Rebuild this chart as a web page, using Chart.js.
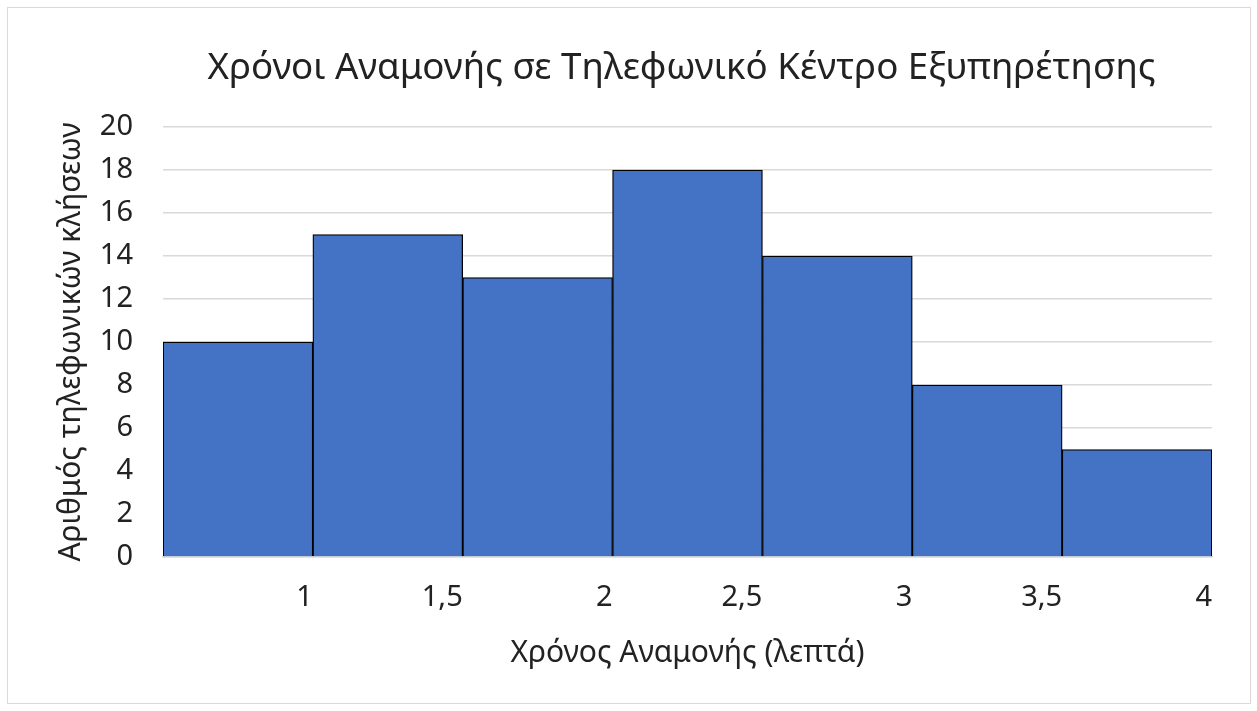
<!DOCTYPE html>
<html>
<head>
<meta charset="utf-8">
<script src="https://cdn.jsdelivr.net/npm/chart.js@4.4.1/dist/chart.umd.min.js"></script>
<style>
  html, body { margin: 0; padding: 0; background: #fff; }
  #frame {
    position: absolute;
    left: 7px;
    top: 7px;
    width: 1242px;
    height: 695px;
    border: 1px solid #d9d9d9;
    background: #fff;
  }
  #chart { display: block; }
</style>
</head>
<body>
<div id="frame"><canvas id="chart" width="1242" height="695"></canvas></div>
<script>
// histogram bins: right edge of each bin (minutes), bin width 0.5
const binEnds = [1, 1.5, 2, 2.5, 3, 3.5, 4];
const binWidth = 0.5;
const callCounts = [10, 15, 13, 18, 14, 8, 5];
const xTickValues = [1, 1.5, 2, 2.5, 3, 3.5, 4];
const xTickLabels = ['1', '1,5', '2', '2,5', '3', '3,5', '4'];
const yTicks = [0, 2, 4, 6, 8, 10, 12, 14, 16, 18, 20];

const chartTitle = 'Χρόνοι Αναμονής σε Τηλεφωνικό Κέντρο Εξυπηρέτησης';
const xTitle = 'Χρόνος Αναμονής (λεπτά)';
const yTitle = 'Αριθμός τηλεφωνικών κλήσεων';

const FONT = "'Noto Sans', sans-serif";
const TEXT = '#222222';

const bars = binEnds.map((end, i) => ({ x: end - binWidth / 2, y: callCounts[i] }));

// title centred over the plot area (like Excel), not over the whole canvas
const plotTitle = {
  id: 'plotTitle',
  afterDraw(chart, args, opts) {
    const { ctx, chartArea } = chart;
    ctx.save();
    ctx.font = `normal ${opts.size}px ${FONT}`;
    ctx.fillStyle = TEXT;
    ctx.textAlign = 'center';
    ctx.textBaseline = 'middle';
    ctx.fillText(opts.text, (chartArea.left + chartArea.right) / 2 - 6, opts.y);
    ctx.restore();
  },
};

new Chart(document.getElementById('chart'), {
  type: 'bar',
  data: {
    datasets: [
      {
        data: bars,
        backgroundColor: '#4472C4',
        borderColor: '#000000',
        borderWidth: 1.3,
        borderSkipped: 'start',
        barPercentage: 1,
        categoryPercentage: 1,
      },
    ],
  },
  plugins: [plotTitle],
  options: {
    responsive: false,
    animation: false,
    layout: { padding: { left: 45, right: 38, top: 119, bottom: 32 } },
    plugins: {
      legend: { display: false },
      tooltip: { enabled: false },
      title: { display: false },
      plotTitle: { text: chartTitle, size: 36.7, y: 61 },
    },
    scales: {
      x: {
        type: 'linear',
        offset: false,
        min: binEnds[0] - binWidth,
        max: binEnds[binEnds.length - 1],
        afterBuildTicks: (scale) => {
          scale.ticks = xTickValues.map((v) => ({ value: v }));
        },
        afterFit: (scale) => {
          scale.height = 114;
        },
        grid: { display: false, drawTicks: false },
        border: { display: true, color: '#d9d9d9', width: 1.5 },
        ticks: {
          align: 'end',
          padding: 23,
          color: TEXT,
          font: { family: FONT, size: 29 },
          callback: (value) => xTickLabels[xTickValues.indexOf(value)],
        },
        title: {
          display: true,
          text: xTitle,
          color: TEXT,
          font: { family: FONT, size: 30 },
          padding: { top: 20, bottom: 0 },
        },
      },
      y: {
        min: 0,
        max: 20,
        afterBuildTicks: (scale) => {
          scale.ticks = yTicks.map((v) => ({ value: v }));
        },
        afterFit: (scale) => {
          scale.width = 110;
        },
        grid: { color: '#d9d9d9', lineWidth: 1.5, drawTicks: false },
        border: { display: false },
        ticks: {
          padding: 30,
          color: TEXT,
          font: { family: FONT, size: 29 },
        },
        title: {
          display: true,
          text: yTitle,
          color: TEXT,
          font: { family: FONT, size: 30 },
          padding: { top: 0, bottom: 11 },
        },
      },
    },
  },
});
</script>
</body>
</html>
